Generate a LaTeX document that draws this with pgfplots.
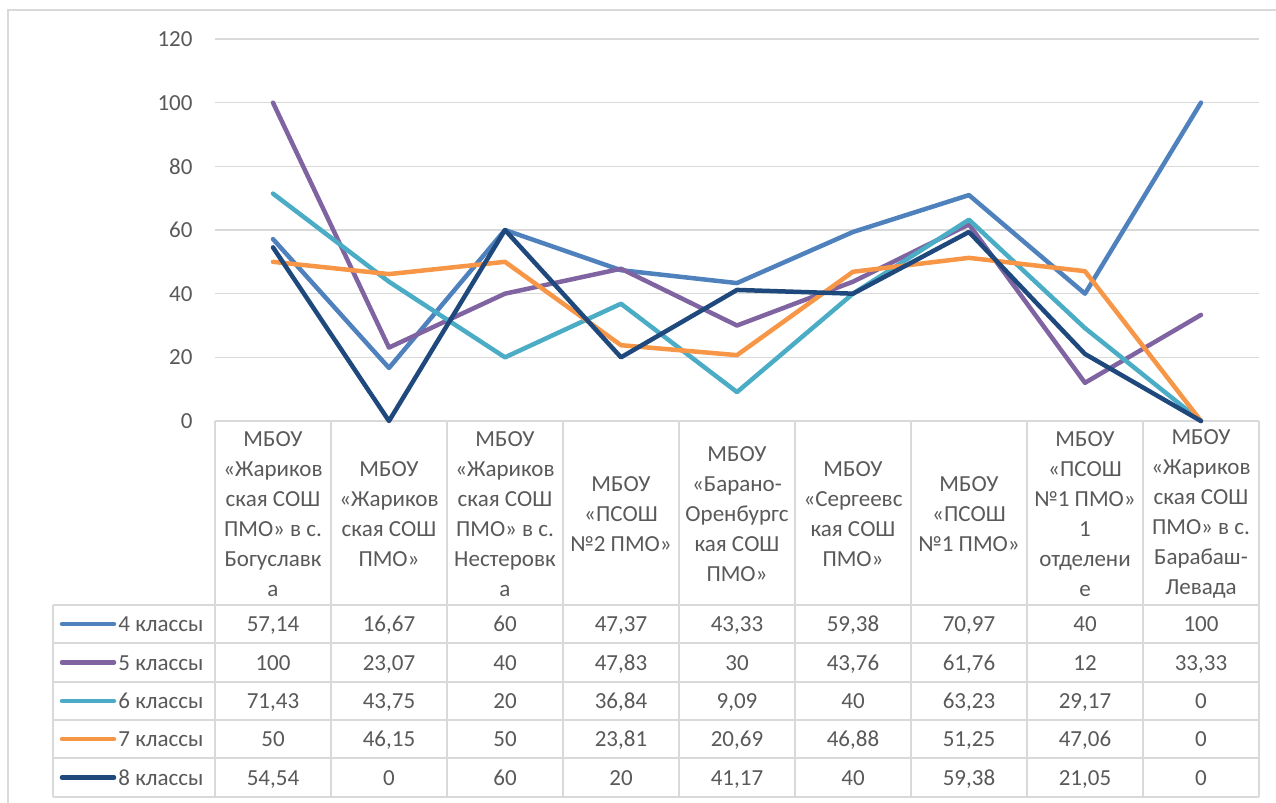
\documentclass[border=0pt]{standalone}
\usepackage{pgfplots}
\pgfplotsset{compat=1.18}
\usepackage{fontspec}
\setmainfont{Carlito}
\definecolor{sA}{HTML}{4F81BD}
\definecolor{sB}{HTML}{8064A2}
\definecolor{sC}{HTML}{4BACC6}
\definecolor{sD}{HTML}{F79646}
\definecolor{sE}{HTML}{1F497D}
\definecolor{txt}{HTML}{595959}
\definecolor{grd}{HTML}{D9D9D9}
\newcommand{\fs}{\fontsize{11.5}{15}\selectfont}
\begin{document}
\begin{tikzpicture}
\begin{scope}[x=0.5pt,y=-0.5pt]
\useasboundingbox (0,0) rectangle (1276,803);
\draw[grd, line width=0.7pt] (8,10) rectangle (1300,830);
\end{scope}
\begin{axis}[at={(107.5pt,-210.5pt)}, anchor=south west,
  scale only axis, width=522pt, height=191pt,
  xmin=-0.5, xmax=8.5, ymin=0, ymax=120,
  ytick={0,20,...,120}, xtick=\empty,
  axis line style={draw=none}, major tick length=0pt,
  ymajorgrids, grid style={grd, line width=0.7pt},
  /pgf/number format/assume math mode=true,
  yticklabel style={font=\fs, text=txt, xshift=-7.7pt},
  clip=false,
  every axis plot/.append style={line width=2.25pt, line join=round, line cap=round, mark=none}]
\addplot[sA] coordinates {(0,57.14) (1,16.67) (2,60) (3,47.37) (4,43.33) (5,59.38) (6,70.97) (7,40) (8,100)};
\addplot[sB] coordinates {(0,100) (1,23.07) (2,40) (3,47.83) (4,30) (5,43.76) (6,61.76) (7,12) (8,33.33)};
\addplot[sC] coordinates {(0,71.43) (1,43.75) (2,20) (3,36.84) (4,9.09) (5,40) (6,63.23) (7,29.17) (8,0)};
\addplot[sD] coordinates {(0,50) (1,46.15) (2,50) (3,23.81) (4,20.69) (5,46.88) (6,51.25) (7,47.06) (8,0)};
\addplot[sE] coordinates {(0,54.54) (1,0) (2,60) (3,20) (4,41.17) (5,40) (6,59.38) (7,21.05) (8,0)};
\end{axis}
\begin{scope}[x=0.5pt,y=-0.5pt]
% table grid
\foreach \k in {0,...,9} \draw[grd, line width=0.7pt] ({215+116*\k},421) -- ({215+116*\k},797);
\draw[grd, line width=0.7pt] (53,605) -- (53,797);
\foreach \yy in {605,643,682,720,758,797} \draw[grd, line width=0.7pt] (53,\yy) -- (1259,\yy);
% category labels
\tikzset{cat/.style={font=\fs, text=txt, align=center, inner sep=0pt}}
\node[cat] at (273,514) {МБОУ\\«Жариков\\ская СОШ\\ПМО» в с.\\Богуславк\\а};
\node[cat] at (389,514) {МБОУ\\«Жариков\\ская СОШ\\ПМО»};
\node[cat] at (505,514) {МБОУ\\«Жариков\\ская СОШ\\ПМО» в с.\\Нестеровк\\а};
\node[cat] at (621,514) {МБОУ\\«ПСОШ\\№2 ПМО»};
\node[cat] at (737,514) {МБОУ\\«Барано-\\Оренбургс\\кая СОШ\\ПМО»};
\node[cat] at (853,514) {МБОУ\\«Сергеевс\\кая СОШ\\ПМО»};
\node[cat] at (969,514) {МБОУ\\«ПСОШ\\№1 ПМО»};
\node[cat] at (1085,514) {МБОУ\\«ПСОШ\\№1 ПМО»\\1\\отделени\\е};
\node[cat] at (1201,514) {МБОУ\\«Жариков\\ская СОШ\\ПМО» в с.\\Барабаш-\\Левада};
% legend keys
\tikzset{val/.style={font=\fs, text=txt, inner sep=0pt, text height=1.45ex, text depth=0.35ex}}
\foreach \c/\yy/\t in {sA/624/4 классы, sB/662.5/5 классы, sC/701/6 классы, sD/739/7 классы, sE/777.5/8 классы}{
  \draw[\c, line width=2.25pt, line cap=round] (62,\yy) -- (114,\yy);
  \node[val, anchor=west] at (118,\yy+2.5) {\t};
}
% values
\def\rowA{{"57,14","16,67","60","47,37","43,33","59,38","70,97","40","100"}}
\def\rowB{{"100","23,07","40","47,83","30","43,76","61,76","12","33,33"}}
\def\rowC{{"71,43","43,75","20","36,84","9,09","40","63,23","29,17","0"}}
\def\rowD{{"50","46,15","50","23,81","20,69","46,88","51,25","47,06","0"}}
\def\rowE{{"54,54","0","60","20","41,17","40","59,38","21,05","0"}}
\foreach \k in {0,...,8}{
  \pgfmathsetmacro{\va}{\rowA[\k]}
  \pgfmathsetmacro{\vb}{\rowB[\k]}
  \pgfmathsetmacro{\vc}{\rowC[\k]}
  \pgfmathsetmacro{\vd}{\rowD[\k]}
  \pgfmathsetmacro{\ve}{\rowE[\k]}
  \node[val] at ({273+116*\k},626.5) {\va};
  \node[val] at ({273+116*\k},665) {\vb};
  \node[val] at ({273+116*\k},703.5) {\vc};
  \node[val] at ({273+116*\k},741.5) {\vd};
  \node[val] at ({273+116*\k},780) {\ve};
}
\end{scope}
\end{tikzpicture}
\end{document}
